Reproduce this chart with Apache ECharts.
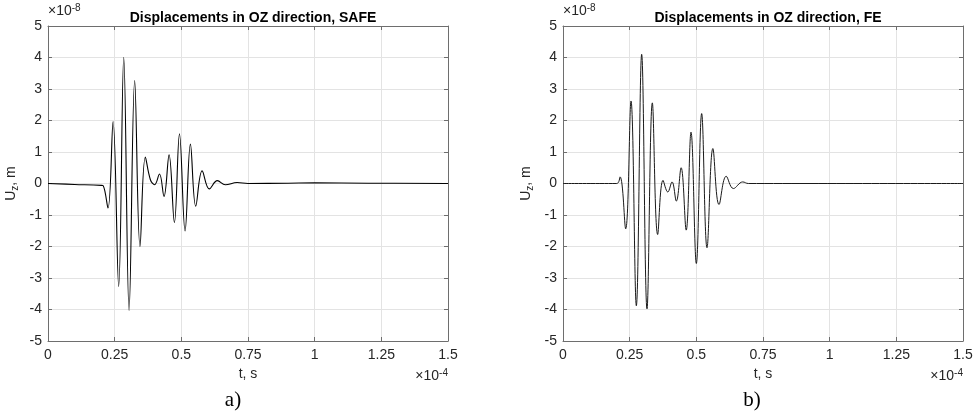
<!DOCTYPE html>
<html>
<head>
<meta charset="utf-8">
<script src="https://cdn.jsdelivr.net/npm/echarts@6/dist/echarts.min.js"></script>
<style>
html,body{margin:0;padding:0;background:#fff;}
#chart{width:980px;height:413px;}
</style>
</head>
<body>
<div id="chart"></div>
<script>
// time in units of 1e-4 s, displacement in units of 1e-8 m
const xTicks = [0, 0.25, 0.5, 0.75, 1, 1.25, 1.5];
const yTicks = [-5, -4, -3, -2, -1, 0, 1, 2, 3, 4, 5];
const titles = ['Displacements in OZ direction, SAFE', 'Displacements in OZ direction, FE'];
const panelLabels = ['a)', 'b)'];

const safeT = [0, 0.1, 0.2, 0.207, 0.225, 0.244, 0.265, 0.284, 0.304, 0.325, 0.345, 0.365, 0.384, 0.40, 0.418, 0.435, 0.454, 0.474, 0.493, 0.514, 0.534, 0.554, 0.578, 0.605, 0.635, 0.665, 0.709, 0.75, 0.9, 1.0, 1.2, 1.5];
const safeU = [0, -0.03, -0.06, -0.07, -0.78, 1.97, -3.27, 4.01, -4.03, 3.27, -2.0, 0.84, 0.12, -0.04, 0.3, -0.41, 0.91, -1.24, 1.58, -1.51, 1.25, -0.72, 0.40, -0.17, 0.09, -0.04, 0.03, 0.0, 0.01, 0.02, 0.01, 0.0];

const feT = [0, 0.2015, 0.214, 0.235, 0.255, 0.275, 0.295, 0.315, 0.335, 0.355, 0.375, 0.393, 0.409, 0.425, 0.443, 0.462, 0.480, 0.500, 0.520, 0.540, 0.562, 0.585, 0.612, 0.639, 0.674, 0.695, 1.5];
const feU = [0, 0, 0.21, -1.44, 2.62, -3.88, 4.1, -3.98, 2.56, -1.62, 0.1, -0.27, 0.05, -0.56, 0.5, -1.48, 1.63, -2.54, 2.22, -2.04, 1.11, -0.67, 0.23, -0.16, 0.05, 0, 0];

const FONT = '"Liberation Sans", Arial, Helvetica, sans-serif';
const TXT = '#262626';
const AX = '#6e6e6e';

const grids = [
  {left: 48, right: 532, top: 26, bottom: 72},
  {left: 563, right: 17, top: 26, bottom: 72}
];

function pair(ts, us){ return ts.map((t,i)=>[t, us[i]]); }

const xAxes = [], yAxes = [];
grids.forEach((g, gi) => {
  xAxes.push({
    type: 'value', gridIndex: gi, min: xTicks[0], max: xTicks[xTicks.length-1], interval: 0.25,
    position: 'bottom',
    name: 't, s', nameLocation: 'middle', nameGap: 24,
    nameTextStyle: {fontFamily: FONT, fontSize: 14, color: TXT},
    axisLine: {show: true, onZero: false, lineStyle: {color: AX, width: 1}},
    axisTick: {show: true, inside: true, length: 4, lineStyle: {color: AX}},
    axisLabel: {fontFamily: FONT, fontSize: 14, color: TXT, margin: 7},
    splitLine: {show: true, lineStyle: {color: '#e3e3e3', width: 1}}
  });
  xAxes.push({
    type: 'value', gridIndex: gi, min: 0, max: 1.5, interval: 0.25, position: 'top',
    axisLine: {show: true, onZero: false, lineStyle: {color: AX, width: 1}},
    axisTick: {show: true, inside: true, length: 4, lineStyle: {color: AX}},
    axisLabel: {show: false}, splitLine: {show: false}
  });
  yAxes.push({
    type: 'value', gridIndex: gi, min: yTicks[0], max: yTicks[yTicks.length-1], interval: 1,
    position: 'left',
    name: '{n|U}{s|z}{n|, m}', nameLocation: 'middle', nameGap: 28,
    nameTextStyle: {fontFamily: FONT, fontSize: 14, color: TXT,
      rich: {n: {fontFamily: FONT, fontSize: 14, color: TXT}, s: {fontFamily: FONT, fontSize: 10, color: TXT, verticalAlign: 'bottom', padding: [8,0,0,0]}}},
    axisLine: {show: true, onZero: false, lineStyle: {color: AX, width: 1}},
    axisTick: {show: true, inside: true, length: 4, lineStyle: {color: AX}},
    axisLabel: {fontFamily: FONT, fontSize: 14, color: TXT, margin: 6},
    splitLine: {show: true, lineStyle: {color: '#e3e3e3', width: 1}}
  });
  yAxes.push({
    type: 'value', gridIndex: gi, min: -5, max: 5, interval: 1, position: 'right',
    axisLine: {show: true, onZero: false, lineStyle: {color: AX, width: 1}},
    axisTick: {show: true, inside: true, length: 4, lineStyle: {color: AX}},
    axisLabel: {show: false}, splitLine: {show: false}
  });
});

const centers = [248, 763];
const graphic = [];
centers.forEach((cx, i) => {
  const g = grids[i];
  const right = i === 0 ? 448 : 963;
  graphic.push({
    type: 'text', left: g.left, top: 3,
    style: {text: '×10{sup|-8}', rich: {sup: {fontSize: 10, fontFamily: FONT, fill: TXT, padding: [0,0,7,0]}},
      font: '14px ' + FONT, fill: TXT}
  });
  graphic.push({
    type: 'text', right: 980 - right, top: 368,
    style: {text: '×10{sup|-4}', rich: {sup: {fontSize: 10, fontFamily: FONT, fill: TXT, padding: [0,0,7,0]}},
      font: '14px ' + FONT, fill: TXT}
  });
});
graphic.push({type: 'text', x: 233, y: 400, style: {text: panelLabels[0], font: '21px "Liberation Serif", "Times New Roman", serif', fill: '#000', align: 'center', verticalAlign: 'middle'}});
graphic.push({type: 'text', x: 752, y: 400, style: {text: panelLabels[1], font: '21px "Liberation Serif", "Times New Roman", serif', fill: '#000', align: 'center', verticalAlign: 'middle'}});

const option = {
  backgroundColor: '#ffffff',
  animation: false,
  title: titles.map((t, i) => ({
    text: t, left: centers[i], top: 6, textAlign: 'center',
    textStyle: {fontFamily: FONT, fontSize: 14, fontWeight: 'bold', color: '#000'}
  })),
  grid: grids,
  xAxis: xAxes,
  yAxis: yAxes,
  graphic: graphic,
  series: [
    {type: 'line', xAxisIndex: 0, yAxisIndex: 0, data: pair(safeT, safeU), showSymbol: false, smooth: 0.4,
      lineStyle: {color: '#000', width: 1.1}},
    {type: 'line', xAxisIndex: 2, yAxisIndex: 2, data: pair(feT, feU), showSymbol: false, smooth: 0.4,
      lineStyle: {color: '#1a1a1a', width: 1}}
  ]
};
echarts.init(document.getElementById('chart')).setOption(option);
</script>
</body>
</html>
